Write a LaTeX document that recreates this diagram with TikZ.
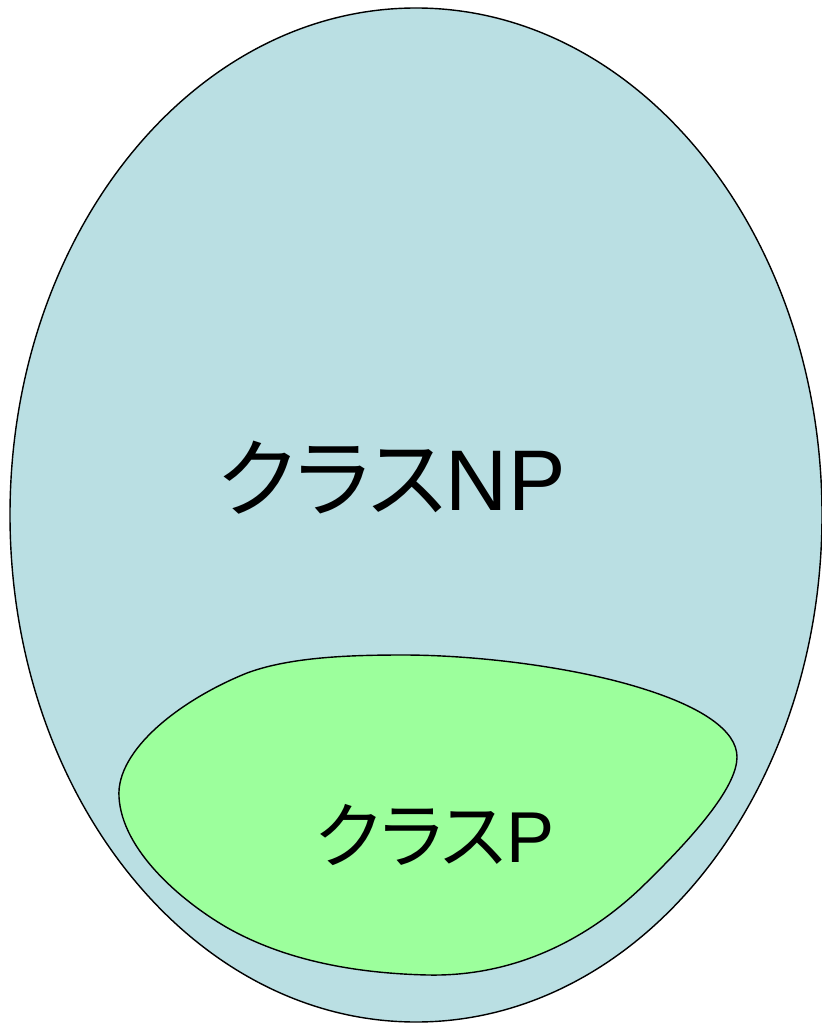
\documentclass[tikz,border=0pt]{standalone}
\usepackage{fontspec}
\setmainfont{Liberation Sans}
\newfontfamily\cjk[RawFeature=+palt]{Noto Sans CJK JP}
\definecolor{npblue}{HTML}{BADFE3}
\definecolor{pgreen}{HTML}{9CFF9C}
\tikzset{
  setnp/.style={draw=black, fill=npblue, line width=0.8pt},
  setp/.style={draw=black, fill=pgreen, line width=0.8pt},
  biglabel/.style={anchor=base, inner sep=0pt, font=\fontsize{49}{50}\selectfont},
  smalllabel/.style={anchor=base, inner sep=0pt, font=\fontsize{41}{42}\selectfont}
}
\begin{document}
\begin{tikzpicture}[x=0.02cm, y=-0.02cm]
   \useasboundingbox (0,0) rectangle (821,1023);
   % Class NP
   \draw[setnp] (416,515) ellipse [x radius=406, y radius=507];
   % Class P
   \draw[setp] (119,797) .. controls (116,750) and (180,700) .. (247,673)
      .. controls (290,657) and (350,655) .. (403,655)
      .. controls (480,655) and (580,668) .. (647,690)
      .. controls (700,707) and (737,730) .. (737,757)
      .. controls (737,785) and (700,830) .. (647,882)
      .. controls (604,925) and (530,977) .. (428,975)
      .. controls (340,973) and (275,955) .. (226,927)
      .. controls (180,900) and (122,850) .. (119,797) -- cycle;
   % Labels
   \node[biglabel] (npclass) at (392,510) {{\cjk クラス}NP};
   \node[smalllabel] (pclass) at (435,862) {{\cjk クラス}P};
\end{tikzpicture}
\end{document}
